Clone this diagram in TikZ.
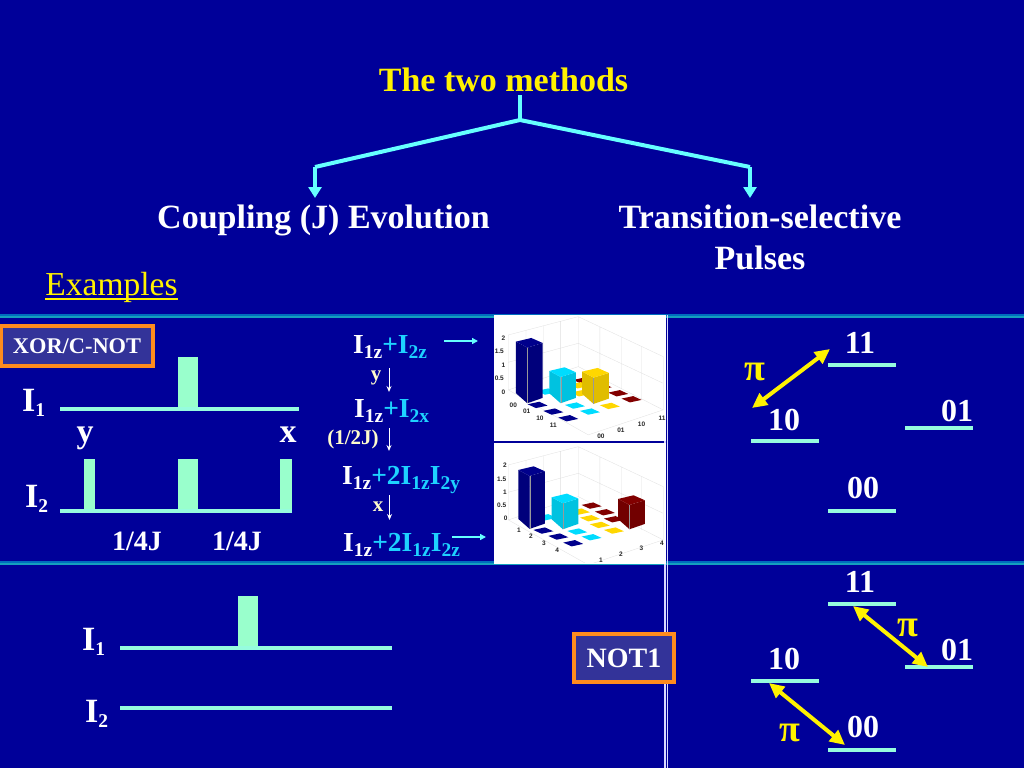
\documentclass[tikz,border=0pt]{standalone}
\usepackage{fontspec}
\setmainfont{Liberation Serif}
\newfontfamily\axisfont{Liberation Sans}
\usetikzlibrary{arrows.meta}
\definecolor{bgblue}{RGB}{0,0,153}
\definecolor{mint}{RGB}{153,255,204}
\definecolor{wirec}{RGB}{150,252,222}
\definecolor{brace}{RGB}{102,255,255}
\definecolor{subcy}{RGB}{30,210,255}
\definecolor{boxfill}{RGB}{51,51,153}
\definecolor{boxline}{RGB}{255,140,30}
\definecolor{rulea}{RGB}{0,110,190}
\definecolor{ruleb}{RGB}{20,160,190}
\definecolor{cdblue}{RGB}{0,0,140}
\definecolor{cdcyan}{RGB}{0,220,255}
\definecolor{cdyellow}{RGB}{255,215,0}
\definecolor{cdred}{RGB}{130,0,0}
\newcommand{\Tile}[3]{\fill[#1] (#2-30,#3-2) -- (#2+5,#3-9.5) -- (#2+30,#3+2) -- (#2-5,#3+9.5) -- cycle;}
\newcommand{\Bar}[4]{% colour, left x, top y (left corner), bottom y (left corner)
  \fill[#1!88!black] (#2,#3) -- (#2+34,#3+18) -- (#2+34,#4+30) -- (#2,#4) -- cycle;
  \fill[#1!88!black] (#2+34,#3+18) -- (#2+80,#3+4) -- (#2+80,#4+14) -- (#2+34,#4+30) -- cycle;
  \fill[#1] (#2,#3) -- (#2+46,#3-11) -- (#2+80,#3+4) -- (#2+34,#3+18) -- cycle;
  \draw[black!40,line width=.2pt] (#2+34,#3+18) -- (#2+34,#4+30);}
\newcommand{\Grid}{%
  \draw[black!12,line width=.3pt] (55,240) -- (55,75) -- (265,20) -- (520,140) -- (520,300) -- (295,375) -- (55,240) (55,240) -- (265,170) -- (520,300) (265,170) -- (265,20)
   (108,62) -- (108,225) (160,48) -- (160,210) (212,34) -- (212,190) (330,50) -- (330,205) (395,80) -- (395,235) (455,110) -- (455,270)
   (55,157) -- (265,100) -- (520,220);}
\tikzset{
  big/.style={font=\bfseries\fontsize{34}{38}\selectfont,text=white,inner sep=0pt},
  levlab/.style={font=\bfseries\fontsize{32}{36}\selectfont,text=white,inner sep=0pt},
  mid/.style={font=\bfseries\fontsize{28}{30}\selectfont,text=white,inner sep=0pt},
  eqn/.style={font=\bfseries\fontsize{27.5}{30}\selectfont,text=white,inner sep=0pt},
  ops/.style={font=\bfseries\fontsize{21}{24}\selectfont,text=white!80!yellow,inner sep=0pt},
  tag/.style={draw=boxline,fill=boxfill,line width=4pt,text=white,font=\bfseries,inner sep=0pt,minimum height=40pt},
  pulse/.style={fill=mint},
  wire/.style={draw=wirec,line width=3.5pt},
  level/.style={draw=wirec,line width=3.5pt},
  trunk/.style={draw=brace,line width=4pt},
  branch/.style={draw=brace,line width=4pt,-{Triangle[length=11pt,width=13pt]}},
  yarrow/.style={draw=yellow,line width=4pt,{Triangle[length=15pt,width=14pt]}-{Triangle[length=15pt,width=14pt]}},
  thinarrow/.style={draw=white,line width=1pt,-{Stealth[length=6pt,width=5pt]}},
  cyarrow/.style={draw=brace,line width=2pt,-{Triangle[length=6pt,width=6pt]}},
  pilab/.style={font=\bfseries\fontsize{38}{40}\selectfont,text=yellow,inner sep=0pt},
  axt/.style={font=\axisfont\bfseries\fontsize{6.5}{7}\selectfont,text=black!85,inner sep=0pt},
}
\newcommand{\cy}[1]{\textcolor{subcy}{#1}}
\newcommand{\sbs}[1]{\raisebox{-5pt}{\fontsize{19.5}{20}\selectfont #1}}
\begin{document}
\begin{tikzpicture}[x=1pt,y=-1pt]
\fill[bgblue] (0,0) rectangle (1024,768);
\useasboundingbox (0,0) rectangle (1024,768);
% rules
\foreach \yy in {316,563}{
  \fill[rulea] (0,\yy-2) rectangle (1024,\yy);
  \fill[ruleb] (0,\yy) rectangle (1024,\yy+2);
}
\fill[white!85!blue] (664,315) rectangle (665.7,768);
\fill[white!85!blue] (666.5,315) rectangle (668,768);
% title tree
\node[big,text=yellow] (title) at (503.5,80) {The two methods};
\coordinate (hub) at (520,120);
\coordinate (hubtop) at (520,95);
\coordinate (lk) at (315,167);
\coordinate (rk) at (750,167);
\node[big] (coup) at (323.5,220) {Coupling (J) Evolution};
\node[big,align=center,font=\bfseries\fontsize{34}{41}\selectfont,anchor=north] (trans) at (760,205) {Transition-selective\\Pulses};
\draw[trunk] (hubtop) -- (hub);
\draw[trunk,line join=round] (lk) -- (hub) -- (rk);
\draw[branch] (lk) -- (315,198);
\draw[branch] (rk) -- (750,198);
\node[font=\fontsize{33.5}{36}\selectfont,text=yellow,inner sep=0pt] (ex) at (111.5,287) {Examples};
\draw[yellow,line width=1.5pt] (45,299) -- (178,299);
% XOR box
\node[tag,minimum width=152pt,font=\bfseries\fontsize{22.4}{24}\selectfont] (xor) at (77,346) {XOR/C-NOT};
% sequence 1
\fill[pulse] (178,357) rectangle (198,410);
\fill[pulse] (84,459) rectangle (95,513);
\fill[pulse] (178,459) rectangle (198,513);
\fill[pulse] (280,459) rectangle (292,513);
\coordinate (a1) at (60,409); \coordinate (a2) at (299,409);
\coordinate (b1) at (60,511); \coordinate (b2) at (292,511);
\draw[wire] (a1) -- (a2);
\draw[wire] (b1) -- (b2);
\node[big,anchor=base west] (i1a) at (22,411) {I\sbs{1}};
\node[big,anchor=base west] (i2a) at (25,507) {I\sbs{2}};
\node[big] (ylab) at (85,438) {y};
\node[big] (xlab) at (288,435) {x};
\node[mid] (t1) at (137,541) {1/4J};
\node[mid] (t2) at (237,541) {1/4J};
% equations
\node[eqn,anchor=base west] (e1) at (353,353) {I\sbs{1z}\cy{+I\sbs{2z}}};
\node[ops] (ey) at (376,378) {y};
\node[eqn,anchor=base west] (e2) at (354,417) {I\sbs{1z}\cy{+I\sbs{2x}}};
\node[ops] (ej) at (353,439) {(1/2J)};
\node[eqn,anchor=base west] (e3) at (342,484) {I\sbs{1z}\cy{+2I\sbs{1z}I\sbs{2y}}};
\node[ops] (ex2) at (378,507) {x};
\node[eqn,anchor=base west] (e4) at (343,551) {I\sbs{1z}\cy{+2I\sbs{1z}I\sbs{2z}}};
\draw[thinarrow] (389,368) -- (389,392);
\draw[thinarrow] (389,428) -- (389,451);
\draw[thinarrow] (389.5,495) -- (389.5,520);
\coordinate (c1) at (444,341); \coordinate (c2) at (478,341);
\coordinate (c3) at (452,537); \coordinate (c4) at (486,537);
\draw[cyarrow] (c1) -- (c2);
\draw[cyarrow] (c3) -- (c4);
% charts
\fill[white] (494,315) rectangle (666,441);
\fill[white] (494,443) rectangle (666,564);
\begin{scope}[shift={(490,310)},x=.333pt,y=-.333pt]
\Grid
\Tile{cdcyan}{170}{245}
\Tile{cdred}{280}{212}
\Tile{cdyellow}{268}{226}
\Tile{cdyellow}{272}{250}
\Tile{cdred}{335}{230}
\Tile{cdred}{385}{250}
\Tile{cdred}{425}{268}
\Tile{cdblue}{143}{285}
\Tile{cdblue}{190}{305}
\Tile{cdblue}{235}{325}
\Tile{cdcyan}{255}{287}
\Tile{cdcyan}{300}{305}
\Tile{cdyellow}{360}{288}
\Bar{cdblue}{78}{95}{250}
\Bar{cdcyan}{178}{183}{250}
\Bar{cdyellow}{277}{185}{252}
\node[axt] (a2v) at (40,85) {2};
\node[axt] (a15) at (28,125) {1.5};
\node[axt] (a1v) at (40,165) {1};
\node[axt] (a05) at (28,205) {0.5};
\node[axt] (a0v) at (40,247) {0};
\node[axt] (l1) at (70,285) {00};
\node[axt] (l2) at (110,305) {01};
\node[axt] (l3) at (150,326) {10};
\node[axt] (l4) at (190,346) {11};
\node[axt] (r1) at (333,380) {00};
\node[axt] (r2) at (393,361) {01};
\node[axt] (r3) at (455,343) {10};
\node[axt] (r4) at (517,325) {11};
\end{scope}
\begin{scope}[shift={(490,440)},x=.333pt,y=-.333pt]
\begin{scope}
\clip (12,12) rectangle (528,368);
\Grid
\end{scope}
\Tile{cdcyan}{170}{232}
\Tile{cdred}{305}{197}
\Tile{cdred}{345}{217}
\Tile{cdred}{372}{238}
\Tile{cdyellow}{270}{215}
\Tile{cdyellow}{300}{235}
\Tile{cdyellow}{330}{255}
\Tile{cdyellow}{372}{272}
\Tile{cdblue}{160}{272}
\Tile{cdblue}{205}{290}
\Tile{cdblue}{250}{310}
\Tile{cdcyan}{262}{275}
\Tile{cdcyan}{305}{292}
\Bar{cdblue}{85}{90}{237}
\Bar{cdcyan}{185}{172}{238}
\Bar{cdred}{385}{177}{238}
\node[axt] (b2v) at (45,77) {2};
\node[axt] (b15) at (35,117) {1.5};
\node[axt] (b1v) at (45,157) {1};
\node[axt] (b05) at (35,195) {0.5};
\node[axt] (b0v) at (47,235) {0};
\node[axt] (m1) at (87,270) {1};
\node[axt] (m2) at (123,290) {2};
\node[axt] (m3) at (162,310) {3};
\node[axt] (m4) at (202,330) {4};
\node[axt] (n1) at (333,362) {1};
\node[axt] (n2) at (393,344) {2};
\node[axt] (n3) at (455,326) {3};
\node[axt] (n4) at (516,310) {4};
\end{scope}
% level diagrams
\foreach \n/\xa/\yy in {p/828/365,q/751/441,r/905/428,s/828/511,t/828/604,u/751/681,v/905/667,w/828/750}{
  \coordinate (\n l) at (\xa,\yy);
  \coordinate (\n r) at (\xa+68,\yy);
  \draw[level] (\n l) -- (\n r);
}
\node[levlab] (l11) at (860,343) {11};
\node[levlab] (l10) at (784,420) {10};
\node[levlab] (l01) at (957,411) {01};
\node[levlab] (l00) at (863,488) {00};
\node[levlab] (k11) at (860,582) {11};
\node[levlab] (k10) at (784,659) {10};
\node[levlab] (k01) at (957,650) {01};
\node[levlab] (k00) at (863,727) {00};
\coordinate (y1a) at (830,349); \coordinate (y1b) at (752,408);
\coordinate (y2a) at (853,606); \coordinate (y2b) at (928,667);
\coordinate (y3a) at (769,683); \coordinate (y3b) at (845,745);
\draw[yarrow] (y1a) -- (y1b);
\draw[yarrow] (y2a) -- (y2b);
\draw[yarrow] (y3a) -- (y3b);
\node[pilab] (pi1) at (755,372) {π};
\node[pilab] (pi2) at (908,628) {π};
\node[pilab] (pi3) at (790,733) {π};
% bottom sequence
\fill[pulse] (238,596) rectangle (258,649);
\coordinate (d1) at (120,648); \coordinate (d2) at (392,648);
\coordinate (f1) at (120,708); \coordinate (f2) at (392,708);
\draw[wire] (d1) -- (d2);
\draw[wire] (f1) -- (f2);
\node[big,anchor=base west] (i1b) at (82,650) {I\sbs{1}};
\node[big,anchor=base west] (i2b) at (85,722) {I\sbs{2}};
\node[tag,minimum width=100pt,minimum height=48pt,font=\bfseries\fontsize{28}{30}\selectfont] (not) at (624,658) {NOT1};
\end{tikzpicture}
\end{document}
